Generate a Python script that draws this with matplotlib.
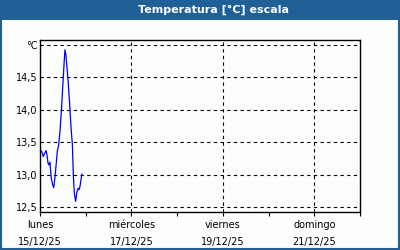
import matplotlib
matplotlib.use("Agg")
import matplotlib.pyplot as plt
from matplotlib.patches import Rectangle
from matplotlib.ticker import FixedLocator, NullFormatter

# hours since lunes 15/12/25 00:00 and temperature readings
hours = [0.4, 1.0, 1.7, 2.5, 3.2, 3.7, 4.2, 4.7, 5.2, 5.9, 6.7, 7.2, 7.7, 8.4,
         9.1, 9.8, 10.5, 11.2, 11.9, 12.6, 13.1, 13.6, 14.2, 14.9, 15.6, 16.3,
         17.0, 17.5, 18.0, 18.7, 19.4, 20.0, 20.5, 21.0, 21.5, 22.0]
temps = [13.37, 13.35, 13.28, 13.33, 13.37, 13.30, 13.18, 13.15, 13.19, 12.95,
         12.84, 12.80, 12.92, 13.13, 13.36, 13.46, 13.67, 13.97, 14.33, 14.69,
         14.92, 14.84, 14.64, 14.38, 14.07, 13.72, 13.46, 13.00, 12.72, 12.59,
         12.74, 12.79, 12.77, 12.82, 12.92, 13.01]

day_ticks = [0, 2, 4, 6]
day_labels = ["lunes\n15/12/25", "miércoles\n17/12/25", "viernes\n19/12/25", "domingo\n21/12/25"]
y_ticks = [12.5, 13.0, 13.5, 14.0, 14.5, 15.0]
y_labels = ["12,5", "13,0", "13,5", "14,0", "14,5", "°C"]

BLUE = "#1f6097"

fig = plt.figure(figsize=(4, 2.5), dpi=100)
fig.patch.set_facecolor("#fcfdfd")

# title bar + frame
fig.patches.append(Rectangle((0, 0.92), 1, 0.08, transform=fig.transFigure,
                             facecolor=BLUE, edgecolor="none", zorder=0))
fig.patches.append(Rectangle((0.002, 0.003), 0.995, 0.995, transform=fig.transFigure,
                             facecolor="none", edgecolor=BLUE, linewidth=1.5, zorder=5))
fig.text(0.533, 0.961, "Temperatura [°C] escala", color="white", fontsize=8,
         fontweight="bold", ha="center", va="center")

ax = fig.add_axes([0.1, 0.154, 0.8, 0.686])
ax.set_facecolor("#fcfdfd")
x = [h / 24 for h in hours]
ax.plot(x, temps, color="#0000ff", linewidth=0.9)

ax.set_xlim(0, 7)
ax.set_ylim(12.435, 15.07)

ax.set_xticks(day_ticks)
ax.set_xticklabels(day_labels, fontsize=7, linespacing=1.85)
ax.xaxis.set_minor_locator(FixedLocator([1, 3, 5, 7]))
ax.xaxis.set_minor_formatter(NullFormatter())
ax.tick_params(axis="x", which="both", direction="out", length=3, width=0.8, pad=3)

ax.set_yticks(y_ticks)
ax.set_yticklabels(y_labels, fontsize=7)
ax.tick_params(axis="y", length=0, pad=2)

for yv in y_ticks:
    ax.axhline(yv, color="black", linestyle=(0, (3, 3)), linewidth=0.8, zorder=1)
for xv in day_ticks[1:]:
    ax.axvline(xv, color="black", linestyle=(0, (3, 3)), linewidth=0.8, zorder=1)

for s in ax.spines.values():
    s.set_linewidth(1.0)

fig.savefig("out.png", dpi=100, facecolor=fig.get_facecolor())
